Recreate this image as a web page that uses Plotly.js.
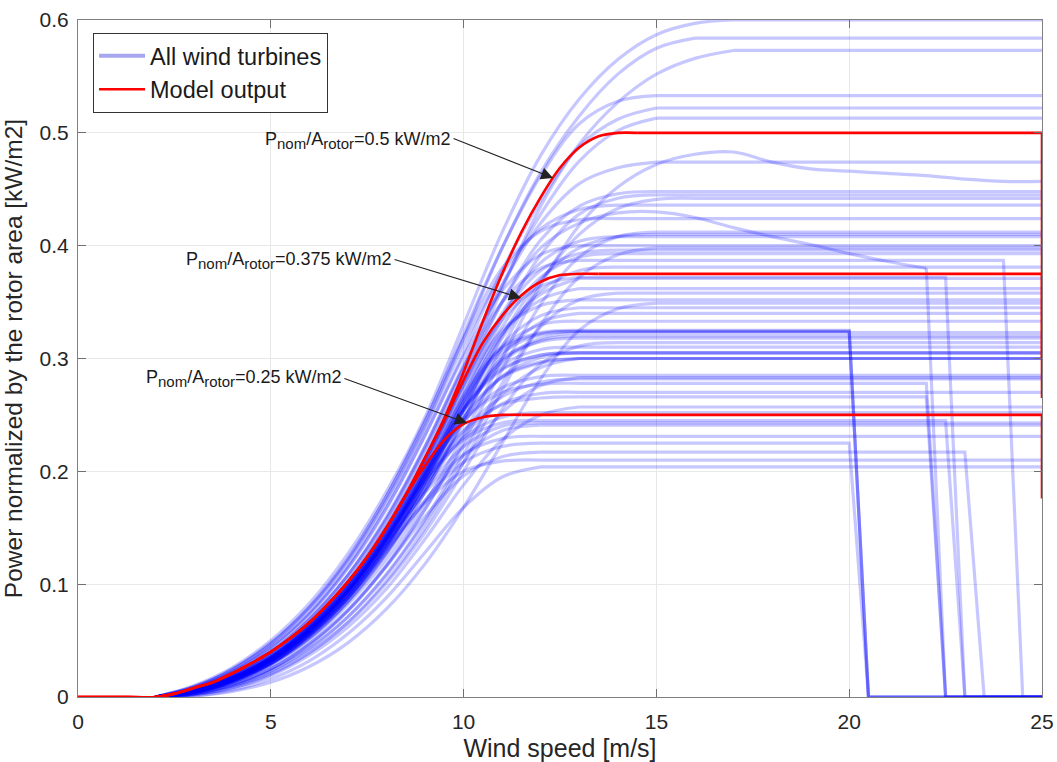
<!DOCTYPE html>
<html>
<head>
<meta charset="utf-8">
<script src="https://cdn.plot.ly/plotly-3.0.1.min.js"></script>
<style>html,body{margin:0;padding:0;background:#fff;}#chart{width:1057px;height:762px;}</style>
</head>
<body>
<div id="chart"></div>
<script>
// ---------- DATA ----------
// wind speeds (m/s) at which turbine power values are given; each turbine list starts at 2 m/s
const gridSpeeds = [2,3,4,5,6,7,8,9,10,11,12,13,14,15,16,17,18,19,20,21,22,23,24,25];

// normalized power (kW/m2) of each turbine from 2 m/s upward; last value is held until cut-out
const turbineRise = [
  [0,0.010,0.026,0.050,0.083,0.127,0.182,0.248,0.330,0.412,0.480,0.530,0.565,0.587,0.597,0.600],
  [0,0.009,0.024,0.047,0.079,0.121,0.175,0.240,0.318,0.398,0.465,0.515,0.552,0.575,0.584],
  [0,0.006,0.018,0.037,0.065,0.103,0.152,0.212,0.285,0.362,0.435,0.490,0.527,0.552,0.566,0.573],
  [0,0.009,0.025,0.048,0.080,0.123,0.178,0.244,0.322,0.398,0.462,0.508,0.528,0.533],
  [0,0.008,0.022,0.044,0.074,0.115,0.168,0.232,0.305,0.378,0.440,0.488,0.512,0.522],
  [0,0.007,0.020,0.040,0.069,0.108,0.158,0.220,0.292,0.365,0.428,0.475,0.502,0.513],
  [0,0.004,0.013,0.028,0.050,0.082,0.122,0.172,0.232,0.300,0.365,0.418,0.452,0.472,0.481,0.483,0.474,0.468,0.466,0.464,0.462,0.459,0.457,0.457],
  [0,0.007,0.020,0.040,0.069,0.108,0.160,0.222,0.295,0.365,0.420,0.455,0.469,0.474],
  [0,0.006,0.018,0.037,0.064,0.101,0.150,0.210,0.280,0.350,0.405,0.435,0.446,0.448],
  [0,0.005,0.016,0.034,0.060,0.095,0.142,0.200,0.268,0.335,0.392,0.428,0.442,0.445],
  [0,0.004,0.013,0.029,0.052,0.085,0.128,0.182,0.245,0.310,0.368,0.410,0.433,0.441,0.442],
  [0,0.008,0.022,0.044,0.075,0.117,0.172,0.238,0.312,0.375,0.415,0.432,0.436],
  [0,0.006,0.018,0.037,0.065,0.103,0.153,0.215,0.285,0.350,0.398,0.420,0.429,0.430,0.425,0.416,0.408,0.401,0.393,0.386,0.380],
  [0,0.009,0.024,0.047,0.079,0.122,0.178,0.245,0.318,0.380,0.413,0.423,0.424],
  [0,0.003,0.011,0.025,0.046,0.076,0.116,0.166,0.226,0.290,0.348,0.390,0.408,0.412],
  [0,0.006,0.018,0.037,0.064,0.101,0.150,0.210,0.278,0.340,0.385,0.404,0.408],
  [0,0.008,0.022,0.043,0.073,0.114,0.167,0.232,0.302,0.360,0.392,0.400],
  [0,0.002,0.008,0.020,0.039,0.066,0.103,0.150,0.208,0.272,0.330,0.372,0.392,0.398],
  [0,0.005,0.016,0.034,0.060,0.095,0.142,0.200,0.266,0.328,0.372,0.390,0.393],
  [0,0.007,0.020,0.040,0.069,0.108,0.158,0.222,0.292,0.350,0.380,0.387],
  [0,0.004,0.014,0.030,0.054,0.088,0.133,0.190,0.255,0.318,0.360,0.378,0.381],
  [0,0.006,0.018,0.036,0.063,0.100,0.148,0.208,0.276,0.334,0.364,0.372],
  [0,0.005,0.016,0.033,0.058,0.093,0.139,0.196,0.262,0.322,0.352,0.362],
  [0,0.003,0.010,0.023,0.043,0.071,0.109,0.157,0.215,0.278,0.328,0.352,0.358],
  [0,0.006,0.017,0.035,0.062,0.098,0.146,0.206,0.272,0.325,0.347,0.352],
  [0,0.001,0.005,0.013,0.027,0.048,0.078,0.118,0.168,0.225,0.282,0.325,0.344,0.349],
  [0,0.005,0.015,0.032,0.057,0.091,0.136,0.193,0.258,0.312,0.338,0.345],
  [0,0.004,0.013,0.029,0.052,0.084,0.127,0.182,0.246,0.302,0.332,0.340],
  [0,0.005,0.016,0.034,0.060,0.095,0.142,0.200,0.262,0.310,0.330,0.333],
  [0,0.006,0.017,0.035,0.062,0.098,0.146,0.205,0.268,0.310,0.323,0.325],
  [0,0.005,0.016,0.033,0.059,0.094,0.140,0.198,0.260,0.305,0.321,0.324],
  [0,0.004,0.014,0.030,0.055,0.088,0.133,0.189,0.250,0.298,0.318,0.323],
  [0,0.005,0.015,0.032,0.057,0.091,0.137,0.194,0.255,0.300,0.315,0.318],
  [0,0.002,0.009,0.021,0.040,0.066,0.101,0.146,0.200,0.255,0.295,0.311,0.314],
  [0,0.005,0.016,0.033,0.059,0.094,0.140,0.197,0.254,0.294,0.308,0.310],
  [0,0.006,0.017,0.035,0.061,0.097,0.144,0.200,0.254,0.290,0.303,0.305],
  [0,0.004,0.014,0.030,0.055,0.088,0.132,0.186,0.242,0.284,0.301,0.305],
  [0,0.005,0.016,0.033,0.058,0.093,0.139,0.194,0.248,0.284,0.297,0.300],
  [0,0.003,0.011,0.025,0.047,0.077,0.117,0.167,0.222,0.268,0.292,0.300],
  [0,0.005,0.016,0.033,0.059,0.094,0.140,0.195,0.245,0.274,0.284,0.285],
  [0,0.003,0.010,0.023,0.043,0.071,0.108,0.155,0.208,0.252,0.276,0.283],
  [0,0.006,0.017,0.035,0.062,0.098,0.145,0.198,0.245,0.270,0.277,0.278],
  [0,0.004,0.014,0.030,0.055,0.088,0.132,0.184,0.232,0.260,0.269,0.270],
  [0,0.005,0.016,0.033,0.059,0.094,0.140,0.192,0.236,0.259,0.265,0.266],
  [0,0.002,0.008,0.019,0.037,0.062,0.096,0.140,0.188,0.228,0.250,0.257],
  [0,0.006,0.017,0.035,0.061,0.097,0.143,0.192,0.228,0.243,0.245],
  [0,0.005,0.015,0.032,0.057,0.091,0.135,0.183,0.222,0.240,0.243],
  [0,0.004,0.013,0.029,0.053,0.085,0.127,0.174,0.214,0.236,0.241],
  [0,0.005,0.016,0.033,0.058,0.092,0.136,0.181,0.215,0.229,0.231],
  [0,0.004,0.014,0.030,0.054,0.087,0.129,0.174,0.208,0.222,0.225],
  [0,0.003,0.011,0.025,0.047,0.077,0.116,0.160,0.196,0.213,0.217],
  [0,0.005,0.015,0.032,0.056,0.089,0.131,0.172,0.200,0.209,0.210],
  [0,0.001,0.006,0.016,0.032,0.056,0.088,0.128,0.168,0.195,0.204],
  [0,0.005,0.016,0.034,0.060,0.096,0.143,0.202,0.265,0.308,0.322,0.324],
  [0,0.006,0.017,0.035,0.061,0.097,0.145,0.203,0.256,0.291,0.303,0.305],
  [0,0.005,0.015,0.032,0.057,0.092,0.138,0.193,0.247,0.283,0.296,0.300],
  [0,0.005,0.016,0.033,0.059,0.094,0.140,0.196,0.262,0.322,0.357,0.371],
  [0,0.006,0.018,0.036,0.063,0.100,0.148,0.208,0.276,0.338,0.378,0.393,0.396],
  [0,0.005,0.016,0.034,0.060,0.095,0.141,0.197,0.255,0.297,0.316,0.320],
  [0,0.004,0.014,0.031,0.056,0.090,0.135,0.188,0.236,0.266,0.279,0.282],
  [0,0.005,0.016,0.033,0.058,0.092,0.137,0.188,0.230,0.248,0.252],
  [0,0.004,0.014,0.030,0.055,0.088,0.133,0.190,0.255,0.320,0.370,0.398,0.408,0.410]
];
// cut-out wind speed of each turbine (25 = runs to end of axis)
const turbineCutout = [25,25,25,25,25,25,25,25,25,25,25,25,22,25,25,25,25,25,25,24,25,22.5,25,25,25,25,25,25,25,20,20,25,25,25,25,25,25,25,25,25,25,22,25,22,25,22.5,25,25,25,20,23,25,25,
                       20,25,25,25,25,25,25,25,25];
const cutoutStep = 0.5; // power reaches zero one sample (0.5 m/s) after cut-out

// model output
const modelSpeeds = [0,1,2,2.5,3,3.5,4,4.5,5,5.5,6,6.5,7,7.5,8,8.5,9,9.5,10,10.5,11,11.5,12,12.5,13,13.5,14,14.5];
const modelP025  = [0,0,0,0.003,0.008,0.013,0.021,0.030,0.040,0.052,0.066,0.083,0.102,0.124,0.150,0.179,0.205,0.228,0.242,0.248,0.250,0.250];
const modelP0375 = [0,0,0,0.003,0.008,0.013,0.021,0.030,0.040,0.052,0.066,0.083,0.102,0.124,0.150,0.179,0.212,0.245,0.281,0.314,0.338,0.356,0.368,0.374,0.375,0.375];
const modelP05   = [0,0,0,0.003,0.008,0.013,0.021,0.030,0.040,0.052,0.066,0.083,0.102,0.124,0.150,0.179,0.212,0.247,0.288,0.333,0.375,0.412,0.443,0.469,0.487,0.497,0.500,0.500];
const modelEndSpeed = 25;
const modelEndDrop = [0.176, 0.300, 0.265]; // value reached at 25 m/s for 0.25 / 0.375 / 0.5 curves

// annotation labels: text, arrow tail (x,y) and arrow head (x,y)
const SUB = s => '<sub><span style="font-size:15px">' + s + '</span></sub>';
const labelTexts = [
  'P' + SUB('nom') + '/A' + SUB('rotor') + '=0.5 kW/m2',
  'P' + SUB('nom') + '/A' + SUB('rotor') + '=0.375 kW/m2',
  'P' + SUB('nom') + '/A' + SUB('rotor') + '=0.25 kW/m2'
];
const labelTailX = [9.70, 8.17, 6.87];
const labelTailY = [0.4954, 0.3882, 0.2827];
const labelHeadX = [12.32, 11.49, 10.09];
const labelHeadY = [0.460, 0.3536, 0.2428];
const labelTextY = [0.4968, 0.3908, 0.2858];

const xTicks = [0,5,10,15,20,25];
const yTicks = [0,0.1,0.2,0.3,0.4,0.5,0.6];

// ---------- TRACES ----------
const BLUE = 'rgba(0,0,255,0.22)';
const RED = 'rgb(255,0,0)';
const traces = [];

traces.push({x:[null], y:[null], mode:'lines', name:'All wind turbines',
  line:{color:'rgba(60,60,220,0.45)', width:4}, showlegend:true, hoverinfo:'skip'});

turbineRise.forEach((vals, i) => {
  const n = vals.length;
  const xs = gridSpeeds.slice(0, n);
  traces.push({x:xs, y:vals, mode:'lines', line:{shape:'spline', smoothing:1, color:BLUE, width:3.2},
    showlegend:false, hoverinfo:'skip'});
  const last = vals[n-1], xl = xs[n-1], cut = turbineCutout[i];
  const tx = [xl], ty = [last];
  if (cut < 25) { tx.push(cut, cut + cutoutStep, 25); ty.push(last, 0, 0); }
  else if (xl < 25) { tx.push(25); ty.push(last); }
  if (tx.length > 1) {
    traces.push({x:tx, y:ty, mode:'lines', line:{shape:'linear', color:BLUE, width:3.2},
      showlegend:false, hoverinfo:'skip'});
  }
});

[modelP025, modelP0375, modelP05].forEach((vals, i) => {
  const n = vals.length;
  const xs = modelSpeeds.slice(0, n);
  traces.push({x:xs, y:vals, mode:'lines', name:'Model output', legendgroup:'model',
    line:{shape:'spline', smoothing:0.8, color:RED, width:2.6}, showlegend:i===0, hoverinfo:'skip'});
  traces.push({x:[xs[n-1], modelEndSpeed, modelEndSpeed], y:[vals[n-1], vals[n-1], modelEndDrop[i]],
    mode:'lines', legendgroup:'model', line:{shape:'linear', color:RED, width:2.6}, showlegend:false, hoverinfo:'skip'});
});

// ---------- ANNOTATIONS ----------
const annotations = [];
labelTexts.forEach((t, i) => {
  annotations.push({x:labelTailX[i], y:labelTextY[i], xref:'x', yref:'y', text:t, showarrow:false,
    xanchor:'right', yanchor:'middle', xshift:1, yshift:-4, font:{size:18, color:'#1a1a1a'}});
  annotations.push({x:labelHeadX[i], y:labelHeadY[i], xref:'x', yref:'y', ax:labelTailX[i], ay:labelTailY[i],
    axref:'x', ayref:'y', text:'', showarrow:true, arrowhead:2, arrowsize:2.2, arrowwidth:1.1,
    arrowcolor:'#222', standoff:0, startstandoff:0});
});

const axisCommon = {
  showgrid:true, gridcolor:'#e8e8e8', gridwidth:1, zeroline:false,
  showline:true, linecolor:'#808080', linewidth:1, mirror:'ticks',
  ticks:'inside', ticklen:8, tickcolor:'#707070', tickwidth:1,
  tickfont:{size:21, color:'#262626'}
};

const layout = {
  width:1057, height:762,
  margin:{l:78, r:15, t:20, b:65},
  paper_bgcolor:'#ffffff', plot_bgcolor:'#ffffff',
  font:{family:'Liberation Sans, Arial, Helvetica, sans-serif', color:'#262626'},
  showlegend:true,
  xaxis:Object.assign({}, axisCommon, {range:[0,25], tickvals:xTicks, ticklabelstandoff:6,
    title:{text:'Wind speed [m/s]', font:{size:25, color:'#262626'}, standoff:8}}),
  yaxis:Object.assign({}, axisCommon, {range:[0,0.6], tickvals:yTicks, ticklabelstandoff:4,
    title:{text:'Power normalized by the rotor area [kW/m2]', font:{size:24.5, color:'#262626'}, standoff:10}}),
  legend:{x:0.0156, y:0.981, xanchor:'left', yanchor:'top', bgcolor:'#ffffff', itemwidth:46,
    bordercolor:'#333333', borderwidth:1, font:{size:23.5, color:'#1a1a1a'}, tracegroupgap:0},
  annotations:annotations
};

Plotly.newPlot('chart', traces, layout, {staticPlot:true, displayModeBar:false});
</script>
</body>
</html>
